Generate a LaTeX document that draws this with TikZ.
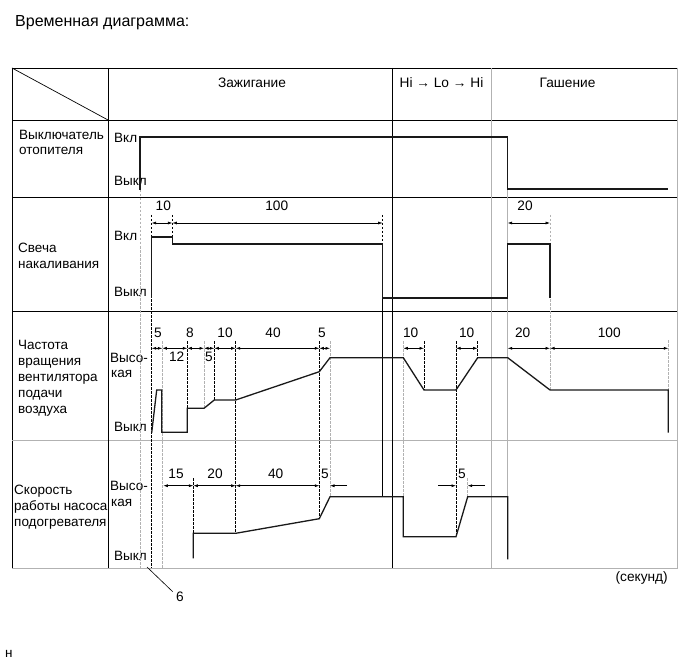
\documentclass[tikz,border=0pt]{standalone}
\usepackage{fontspec}
\setmainfont{Liberation Sans}
\usetikzlibrary{arrows.meta}
\begin{document}
\begin{tikzpicture}[x=1pt,y=-1pt,
  grid/.style={line width=0.7pt,black},
  gridgray/.style={line width=0.7pt,gray!60},
  sig/.style={line width=1.3pt,black!90,line join=miter},
  dim/.style={line width=0.6pt,{Latex[length=4.5pt,width=3pt]}-{Latex[length=4.5pt,width=3pt]}},
  dimr/.style={line width=0.6pt,-{Latex[length=4.5pt,width=3pt]}},
  bdash/.style={line width=0.6pt,dash pattern=on 2.5pt off 1.5pt},
  gdash/.style={line width=0.6pt,gray!60,dash pattern=on 2.5pt off 1.5pt},
  guide/.style={line width=0.7pt,gray!60},
  lbl/.style={anchor=base west,inner sep=0pt,font=\fontsize{13.5}{16}\selectfont},
  num/.style={anchor=base,inner sep=0pt,font=\fontsize{13.7}{16}\selectfont},
]
\useasboundingbox[fill=white] (0,0) rectangle (690,660);

% title
\node[lbl,font=\fontsize{16}{19}\selectfont] (title) at (15,27) {Временная диаграмма:};

% table
\draw[grid] (12,568) -- (12,68) -- (677,68);
\draw[gridgray] (677,68) -- (677,568) -- (12,568);
\draw[grid] (12,120) -- (677,120);
\draw[grid] (12,197) -- (677,197);
\draw[grid] (12,311) -- (677,311);
\draw[gridgray] (12,440) -- (677,440);
\draw[grid] (108,68) -- (108,568);
\draw[grid] (392,68) -- (392,568);
\draw[gridgray] (491,68) -- (491,568);
\draw[grid] (12,68) -- (108,120);

% header
\node[num] (hz) at (252,87.5) {Зажигание};
\node[num] (hh) at (441.5,87.5) {Hi → Lo → Hi};
\node[num] (hg) at (567.5,87.5) {Гашение};

% row labels
\node[lbl] (r1a) at (19,139.5) {Выключатель};
\node[lbl] (r1b) at (19,155) {отопителя};
\node[lbl] (r2a) at (18,252.5) {Свеча};
\node[lbl] (r2b) at (18,268.5) {накаливания};
\node[lbl] (r3a) at (18,349.5) {Частота};
\node[lbl] (r3b) at (18,365.5) {вращения};
\node[lbl] (r3c) at (18,381.5) {вентилятора};
\node[lbl] (r3d) at (18,397.5) {подачи};
\node[lbl] (r3e) at (18,413.5) {воздуха};
\node[lbl] (r4a) at (14,494.5) {Скорость};
\node[lbl] (r4b) at (14,510.5) {работы насоса};
\node[lbl] (r4c) at (14,526.5) {подогревателя};

% level labels
\node[lbl] (l1a) at (114,142.5) {Вкл};
\node[lbl] (l1b) at (114,185.5) {Выкл};
\node[lbl] (l2a) at (114,240.5) {Вкл};
\node[lbl] (l2b) at (114,296.5) {Выкл};
\node[lbl] (l3a) at (110,362.5) {Высо-};
\node[lbl] (l3b) at (111,377.5) {кая};
\node[lbl] (l3c) at (114,431.5) {Выкл};
\node[lbl] (l4a) at (110,490.5) {Высо-};
\node[lbl] (l4b) at (111,506.5) {кая};
\node[lbl] (l4c) at (114,560.5) {Выкл};

% guide lines
\draw[gdash] (140,190) -- (140,568);
\draw[guide] (507.7,189) -- (507.7,559);
\draw[bdash] (151.7,215) -- (151.7,568);
\draw[bdash] (172.3,215) -- (172.3,237);
\draw[bdash] (382.7,215) -- (382.7,244);
\draw[gdash] (550,215) -- (550,390);
\draw[gdash] (668.3,340) -- (668.3,390);
\draw[grid] (382.7,298) -- (382.7,496.7);

\draw[gdash] (162.3,341) -- (162.3,568);
\draw[bdash] (187.3,341) -- (187.3,408.3);
\draw[gdash] (204,341) -- (204,408.3);
\draw[bdash] (214.3,341) -- (214.3,400);
\draw[bdash] (235.7,341) -- (235.7,533.3);
\draw[bdash] (319.3,341) -- (319.3,518.7);
\draw[gdash] (330,341) -- (330,496.7);
\draw[gdash] (403.3,341) -- (403.3,496.7);
\draw[bdash] (424,341) -- (424,390);
\draw[bdash] (456,341) -- (456,536.7);
\draw[bdash] (477.7,341) -- (477.7,357.7);
\draw[bdash] (193.3,478) -- (193.3,533.3);
\draw[gdash] (467.7,478) -- (467.7,496.7);

% signals
\draw[sig] (140,190) -- (140,137) -- (507.7,137) -- (507.7,189) -- (668.3,189);
\draw[sig] (151.7,298) -- (151.7,237) -- (172.3,237) -- (172.3,244) -- (382.7,244) -- (382.7,298) -- (507.7,298) -- (507.7,244) -- (550,244) -- (550,298);
\draw[sig] (151.7,432.7) -- (156.7,390) -- (161.7,390) -- (161.7,432.3) -- (187.3,432.3) -- (187.3,408.3) -- (204,408.3) -- (214.3,400) -- (235.7,400) -- (319.3,371.7) -- (330,357.7) -- (403.3,357.7) -- (424,390) -- (456,390) -- (477.7,357.7) -- (507.7,357.7) -- (550,390) -- (668.3,390) -- (668.3,432.7);
\draw[sig] (193.3,558.3) -- (193.3,533.3) -- (235.7,533.3) -- (319.3,518.7) -- (330,496.7) -- (403.3,496.7) -- (403.3,536.7) -- (456,536.7) -- (467.7,496.7) -- (507.7,496.7) -- (507.7,559.3);

% dimension arrows: glow plug
\draw[dim] (151.7,223) -- (172.3,223);
\draw[dim] (172.3,223) -- (382.7,223);
\draw[dim] (507.7,223) -- (550,223);
\node[num] (g10) at (163.3,210.5) {10};
\node[num] (g100) at (276.7,210.5) {100};
\node[num] (g20) at (525,210.5) {20};

% fan
\draw[dim] (151.7,348.3) -- (162.3,348.3);
\draw[dim] (162.3,348.3) -- (187.3,348.3);
\draw[dim] (187.3,348.3) -- (204,348.3);
\draw[dim] (204,348.3) -- (214.3,348.3);
\draw[dim] (214.3,348.3) -- (235.7,348.3);
\draw[dim] (235.7,348.3) -- (319.3,348.3);
\draw[dim] (319.3,348.3) -- (330,348.3);
\draw[dim] (403.3,348.3) -- (424,348.3);
\draw[dim] (456,348.3) -- (477.7,348.3);
\draw[dim] (507.7,348.3) -- (550,348.3);
\draw[dim] (550,348.3) -- (668.3,348.3);
\node[num] (f5a) at (158,337) {5};
\node[num] (f8) at (190,337) {8};
\node[num] (f10a) at (225,337) {10};
\node[num] (f40) at (273,337) {40};
\node[num] (f5b) at (322,337) {5};
\node[num] (f12) at (176.7,361.5) {12};
\node[num] (f5c) at (209,361.5) {5};
\node[num] (f10b) at (410.7,337) {10};
\node[num] (f10c) at (466.7,337) {10};
\node[num] (f20) at (522.7,337) {20};
\node[num] (f100) at (609.3,337) {100};

% pump
\draw[dim] (163.3,485.7) -- (193.3,485.7);
\draw[dim] (193.3,485.7) -- (235.7,485.7);
\draw[dim] (235.7,485.7) -- (319.3,485.7);
\draw[dimr] (347,485.7) -- (330,485.7);
\draw[dimr] (438.3,485.7) -- (456,485.7);
\draw[dimr] (485,485.7) -- (467.7,485.7);
\node[num] (p15) at (176,478) {15};
\node[num] (p20) at (215,478) {20};
\node[num] (p40) at (275.7,478) {40};
\node[num] (p5a) at (325,478) {5};
\node[num] (p5b) at (462,478) {5};

% bottom
\node[num] (sec) at (641.7,581.5) {(секунд)};
\coordinate (lead) at (147,567);
\node[num] (six) at (180,601.5) {6};
\draw[line width=0.6pt] (lead) -- (172.7,591.7);
\node[lbl] (hh2) at (5,657) {н};
\end{tikzpicture}
\end{document}
